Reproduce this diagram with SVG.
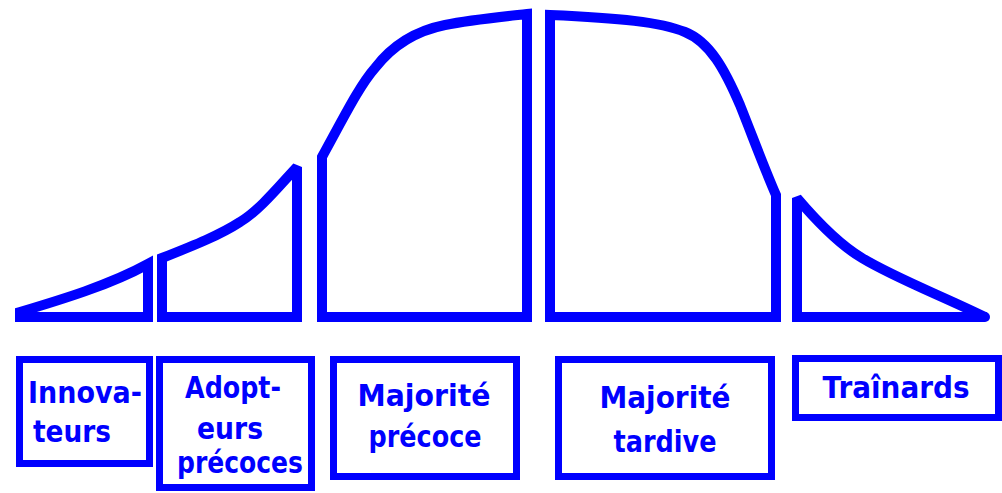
<svg xmlns="http://www.w3.org/2000/svg" width="1002" height="493" viewBox="0 0 1002 493">
<style>
.seg{fill:none;stroke:#0000ff;stroke-width:10;stroke-linejoin:miter;stroke-miterlimit:2}
.box{fill:#fff;stroke:#0000ff;stroke-width:7}
.lbl{font-family:"DejaVu Sans","Liberation Sans",sans-serif;font-weight:bold;font-size:31px;fill:#0000ff;text-anchor:middle}
</style>
<rect width="1002" height="493" fill="#fff"/>
<g id="curve">
<path class="seg" d="M20,312 C60,300 110,285 148,264 L148,317 L20,317 Z"/>
<path class="seg" d="M162,317 L162,258 C195,245 220,235 240,222 C260,210 280,185 297,167 L297,317 Z"/>
<path class="seg" d="M322,317 L322,157 C345,115 360,85 375,68 C395,42 420,30 445,25 C470,20 500,17 527,14 L527,317 Z"/>
<path class="seg" d="M550,317 L550,15 C620,18 660,22 685,32 C710,42 725,70 740,105 C752,135 765,170 776,195 L776,317 Z"/>
<path class="seg" d="M797,317 L797,198 C820,225 840,245 862,258 C895,278 940,295 985,317 Z"/>
<circle cx="985" cy="317" r="5" fill="#0000ff"/>
</g>
<g id="innovateurs">
<rect class="box" x="19.5" y="359.5" width="130" height="104"/>
<text class="lbl" x="85" y="403" textLength="114" lengthAdjust="spacingAndGlyphs">Innova-</text>
<text class="lbl" x="72" y="442" textLength="78" lengthAdjust="spacingAndGlyphs">teurs</text>
</g>
<g id="adopteurs">
<rect class="box" x="159.5" y="359.5" width="152" height="128"/>
<text class="lbl" x="233" y="398" textLength="96" lengthAdjust="spacingAndGlyphs">Adopt-</text>
<text class="lbl" x="230" y="439" textLength="66" lengthAdjust="spacingAndGlyphs">eurs</text>
<text class="lbl" x="240" y="473" textLength="126" lengthAdjust="spacingAndGlyphs">précoces</text>
</g>
<g id="majorite-precoce">
<rect class="box" x="333.5" y="359.5" width="183" height="117"/>
<text class="lbl" x="424" y="406" textLength="133" lengthAdjust="spacingAndGlyphs">Majorité</text>
<text class="lbl" x="425" y="447" textLength="113" lengthAdjust="spacingAndGlyphs">précoce</text>
</g>
<g id="majorite-tardive">
<rect class="box" x="558.5" y="359.5" width="213" height="117"/>
<text class="lbl" x="665" y="408" textLength="131" lengthAdjust="spacingAndGlyphs">Majorité</text>
<text class="lbl" x="665" y="452" textLength="103" lengthAdjust="spacingAndGlyphs">tardive</text>
</g>
<g id="trainards">
<rect class="box" x="795.5" y="358.5" width="203" height="59"/>
<text class="lbl" x="896" y="398" textLength="147" lengthAdjust="spacingAndGlyphs">Traînards</text>
</g>
</svg>
